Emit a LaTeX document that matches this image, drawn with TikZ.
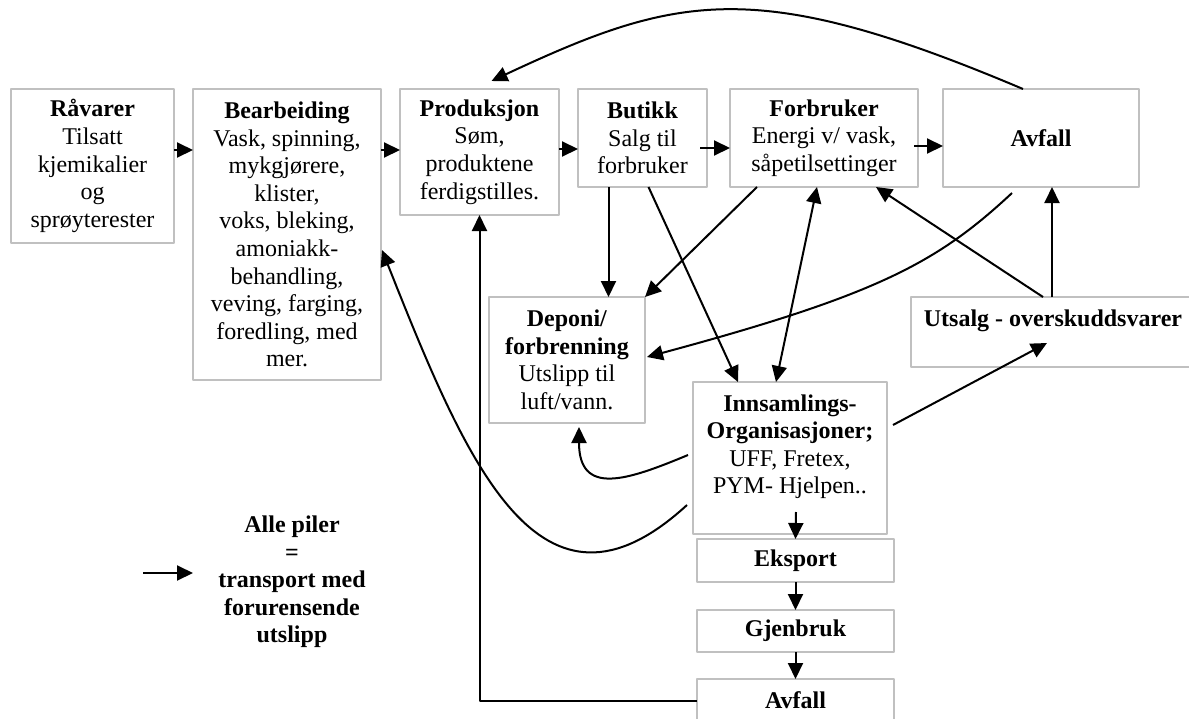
\documentclass[tikz,border=0pt]{standalone}
\usepackage{fontspec}
\setmainfont{Liberation Serif}
\usetikzlibrary{arrows.meta}
\definecolor{boxgray}{HTML}{C0C0C0}
\begin{document}
\begin{tikzpicture}[x=0.5pt, y=-0.5pt, font=\fontsize{12}{13.8}\selectfont, line join=round, >={Triangle[length=8pt,width=7.5pt]},
	boks/.style={draw=boxgray, line width=1pt, align=center, inner sep=2pt, outer sep=0pt, anchor=north west},
	pil/.style={->, line width=1pt}]
	\useasboundingbox (0,0) rectangle (1189,718);
	% Bokser
	\node[boks, minimum width=81.5pt, minimum height=77pt] (raa) at (11,89) {\textbf{Råvarer}\\Tilsatt\\kjemikalier\\og\\sprøyterester};
	\node[boks, minimum width=94pt, minimum height=145.5pt] (bear) at (193,89) {\textbf{Bearbeiding}\\Vask, spinning,\\mykgjørere,\\klister,\\voks, bleking,\\amoniakk-\\behandling,\\veving, farging,\\foredling, med\\mer.};
	\node[boks, minimum width=79.5pt, minimum height=63pt] (prod) at (400,89) {\textbf{Produksjon}\\Søm,\\produktene\\ferdigstilles.};
	\node[boks, minimum width=64.5pt, minimum height=49pt] (butikk) at (578,89) {\textbf{Butikk}\\Salg til\\forbruker};
	\node[boks, minimum width=94pt, minimum height=49pt] (forb) at (730,89) {\textbf{Forbruker}\\Energi v/ vask,\\såpetilsettinger};
	\node[boks, minimum width=98pt, minimum height=49pt] (avfall) at (943,89) {\textbf{Avfall}};
	\node[boks, minimum width=78pt, minimum height=63pt] (depo) at (489,297) {\textbf{Deponi/}\\\textbf{forbrenning}\\Utslipp til\\luft/vann.};
	\node[boks, minimum width=142pt, minimum height=35pt] (utsalg) at (911,297) {\textbf{Utsalg - overskuddsvarer}\\\mbox{}};
	\node[boks, minimum width=97pt, minimum height=76pt] (innsam) at (693,382) {\textbf{Innsamlings-}\\\textbf{Organisasjoner;}\\UFF, Fretex,\\PYM- Hjelpen..\\\mbox{}};
	\node[boks, minimum width=98.5pt, minimum height=21.5pt] (eksport) at (697,539) {\textbf{Eksport}};
	\node[boks, minimum width=98.5pt, minimum height=21pt] (gjenbruk) at (697,610) {\textbf{Gjenbruk}};
	\node[boks, minimum width=98.5pt, minimum height=21.5pt] (avfall2) at (697,679) {\textbf{Avfall}};
	% Piler
	\draw[pil] ([yshift=-30.5pt]raa.north east) -- ([yshift=-30.5pt]bear.north west);
	\draw[pil] ([yshift=-30.5pt]bear.north east) -- ([yshift=-30.5pt]prod.north west);
	\draw[pil] ([yshift=-30pt]prod.north east) -- ([yshift=-30pt]butikk.north west);
	\draw[pil] ([shift={(-3.5pt,-29.5pt)}]butikk.north east) -- ([yshift=-29.5pt]forb.north west);
	\draw[pil] ([shift={(-2pt,-28.5pt)}]forb.north east) -- ([yshift=-28.5pt]avfall.north west);
	\draw[pil] ([xshift=-9pt]avfall.north) .. controls +(-267,-113) and +(186,-87) .. ([shift={(6pt,4pt)}]prod.north);
	\draw[pil] ([xshift=-17pt]butikk.south) coordinate (b1) -- (b1 |- depo.north);
	\draw[pil] ([xshift=3pt]butikk.south) -- ([xshift=-26pt]innsam.north);
	\draw[pil] ([xshift=-33.5pt]forb.south) -- (depo.north east);
	\draw[pil, <->] ([xshift=-3.5pt]forb.south) -- ([xshift=-7pt]innsam.north);
	\draw[pil] ([shift={(-14.5pt,-3pt)}]avfall.south) .. controls +(-75,70) and +(230,-62) .. ([shift={(1pt,1.5pt)}]depo.east);
	\draw[pil] ([xshift=-5pt]utsalg.north) -- ([xshift=26pt]forb.south);
	\draw[pil] ([xshift=-0.5pt]utsalg.north) -- ([xshift=5.5pt]avfall.south);
	\draw[pil] ([shift={(3pt,16.5pt)}]innsam.east) -- ([shift={(-3pt,-5.5pt)}]utsalg.center);
	\draw[pil] ([shift={(-2.5pt,1.5pt)}]innsam.west) .. controls +(-60,25) and +(0,70) .. ([shift={(6pt,-2pt)}]depo.south);
	\draw[pil] ([shift={(-3pt,-23.5pt)}]innsam.west) .. controls +(-147,135) and +(85,214) .. ([shift={(0.5pt,-7.75pt)}]bear.east);
	\draw[pil] (avfall2.west) -| (prod.south);
	\draw[pil] ([shift={(3pt,11pt)}]innsam.south) -- (eksport.north);
	\draw[pil] (eksport.south) -- (gjenbruk.north);
	\draw[pil] (gjenbruk.south) -- (avfall2.north);
	% Forklaring
	\coordinate (legA) at (143,573);
	\coordinate (legB) at (193,573);
	\draw[pil] (legA) -- (legB);
	\node[font=\fontsize{12}{13.8}\selectfont\bfseries, align=center] (forklaring) at (292,582) {Alle piler\\=\\transport med\\forurensende\\utslipp};
\end{tikzpicture}
\end{document}
